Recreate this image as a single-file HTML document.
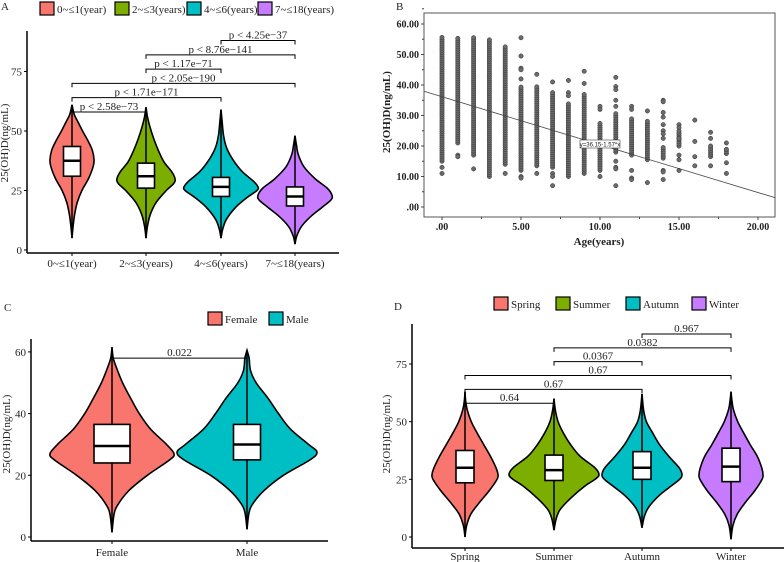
<!DOCTYPE html>
<html><head><meta charset="utf-8"><style>
html,body{margin:0;padding:0;background:#fff}
svg{display:block;font-family:"Liberation Serif",serif}
</style></head><body>
<svg id="fig" width="784" height="562" viewBox="0 0 784 562" xmlns="http://www.w3.org/2000/svg"></svg>
<script>
// ---------- DATA ----------
const colors = ["#F8766D","#7CAE00","#00BFC4","#C77CFF"];
// Panel A
const catsA = ["0~≤1(year)","2~≤3(years)","4~≤6(years)","7~≤18(years)"];
const ticksA = [0,25,50,75];
const boxA = [[31,37.5,43.5],[26,31,36.5],[22.5,26.5,30.5],[18.5,22.5,26.5]];
const profA = [
 [[5,0],[10,0.05],[15,0.12],[20,0.24],[25,0.45],[30,0.75],[35,0.96],[38,1],[42,0.92],[46,0.72],[50,0.48],[54,0.26],[57,0.1],[61,0]],
 [[5,0],[10,0.05],[15,0.15],[20,0.35],[25,0.7],[28,0.96],[30,1],[33,0.88],[37,0.62],[42,0.42],[47,0.26],[52,0.13],[56,0.05],[60,0]],
 [[5,0],[9,0.05],[13,0.15],[18,0.4],[22,0.7],[25,0.97],[26.5,1],[29,0.87],[33,0.57],[38,0.32],[43,0.15],[48,0.07],[54,0.03],[59,0]],
 [[2.5,0],[6,0.05],[10,0.18],[14,0.42],[18,0.74],[21,0.97],[23,1],[26,0.87],[30,0.54],[35,0.24],[40,0.09],[44,0.04],[48,0]]];
const halfA = [22,29,37,37];
const brA = [[0,1,"p < 2.58e−73",58],[0,2,"p < 1.71e−171",64],[0,3,"p < 2.05e−190",70],[1,2,"p < 1.17e−71",76],[1,3,"p < 8.76e−141",82],[2,3,"p < 4.25e−37",88]];
// Panel B
const ticksBy = [0,10,20,30,40,50,60];
const ticksBx = [0,5,10,15,20];
const ages = [0,1,2,3,4,5,6,7,8,9,10,11,12,13,14,15,16,17,18];
const segs = [[15,56],[21,56],[17,56],[10,55.5],[14,53],[12,40],[13.5,40],[13,38],[10,34],[11,37],[12,28],[18,31],[17,29],[15.5,28.5],[16,20],[20,25],[16.5,17],[16.5,20.5],[17.5,19.5]];
const extras = [[13,11],[17,16.5],[12.5],[],[11],[55.5,49.5,45.5,45,42,10,9.5],[43.5,11],[41,11,10,7],[41.5,37.5,36.5],[44.5,40.5],[33,32,10],[42.5,39.5,38.5,35,33,15,13,12.5,7],[33,32,12,9.5,9],[31.5,8],[35,34.5,31,29.5,27,25,24,22.5,12,11.5,9],[27,26,22.5,17,15.5,12],[28.5,21.5,13.5],[24.5,22.5,13.5],[21,14.5,11]];
const regA = 36.15, regB = -1.57;
// Panel C
const catsC = ["Female","Male"];
const ticksC = [0,20,40,60];
const boxC = [[24,29.5,36.5],[25,30,36.5]];
const profC = [
 [[1.5,0],[7,0.03],[10,0.08],[15,0.27],[20,0.57],[25,0.93],[27,1],[30,0.88],[35,0.62],[40,0.44],[45,0.3],[50,0.17],[55,0.07],[58,0.02],[61.5,0]],
 [[2.5,0],[8,0.03],[11,0.09],[15,0.24],[20,0.52],[25,0.9],[27.5,1],[30,0.88],[35,0.62],[40,0.45],[45,0.3],[50,0.13],[54,0.05],[58,0.03],[60.5,0]]];
const halfC = [62,70];
const brC = [[0,1,"0.022",58]];
// Panel D
const catsD = ["Spring","Summer","Autumn","Winter"];
const ticksD = [0,25,50,75];
const boxD = [[23.5,30,37.5],[24.5,29,35.5],[25,30,37],[24,30.5,38.5]];
const profD = [
 [[0,0],[5,0.05],[10,0.18],[15,0.44],[20,0.73],[25,0.97],[27,1],[30,0.94],[35,0.77],[40,0.57],[45,0.37],[50,0.19],[55,0.07],[59,0.02],[63,0]],
 [[3,0],[8,0.05],[12,0.14],[17,0.38],[22,0.68],[25,0.91],[27,1],[30,0.91],[35,0.58],[40,0.37],[45,0.21],[50,0.09],[55,0.03],[60,0]],
 [[4,0],[9,0.06],[13,0.17],[18,0.43],[22,0.72],[25,0.94],[27,1],[30,0.93],[35,0.67],[40,0.44],[45,0.27],[50,0.11],[55,0.04],[62,0]],
 [[-1,0],[5,0.06],[10,0.2],[15,0.45],[20,0.74],[25,0.97],[27,1],[30,0.96],[35,0.82],[40,0.6],[45,0.4],[50,0.21],[55,0.08],[59,0.03],[63,0]]];
const halfD = [33,45,40,32];
const brD = [[0,1,"0.64",58],[0,2,"0.67",64],[0,3,"0.67",70],[1,2,"0.0367",76],[1,3,"0.0382",82],[2,3,"0.967",88]];

// ---------- HELPERS ----------
const NS="http://www.w3.org/2000/svg", svg=document.getElementById('fig');
function mk(tag,attrs,parent,txt){const e=document.createElementNS(NS,tag);for(const k in attrs)e.setAttribute(k,attrs[k]);if(txt!==undefined)e.textContent=txt;(parent||svg).appendChild(e);return e;}
function group(name){const g=mk('g',{});return g;}
function smooth(pts){let d=`M${pts[0][0]},${pts[0][1]}`;for(let i=0;i<pts.length-1;i++){const p0=pts[Math.max(0,i-1)],p1=pts[i],p2=pts[i+1],p3=pts[Math.min(pts.length-1,i+2)];const c1=[p1[0]+(p2[0]-p0[0])/6,p1[1]+(p2[1]-p0[1])/6],c2=[p2[0]-(p3[0]-p1[0])/6,p2[1]-(p3[1]-p1[1])/6];d+=`C${c1[0]},${c1[1]} ${c2[0]},${c2[1]} ${p2[0]},${p2[1]}`;}return d;}

function violinPanel(o){
  const g=group(o.name);
  const y=v=>o.y0-(v-0)*o.ys;
  const ax=mk('line',{x1:o.ax,y1:o.axTop,x2:o.ax,y2:o.axBot,stroke:'#000','stroke-width':1.5},g);
  
  const bx=mk('line',{x1:o.ax,y1:o.axBot,x2:o.axRight,y2:o.axBot,stroke:'#000','stroke-width':1.5},g);
  
  o.ticks.forEach(t=>{mk('line',{x1:o.ax-3,y1:y(t),x2:o.ax,y2:y(t),stroke:'#000'},g);
    const tl=mk('text',{x:o.ax-5,y:y(t)+4,'text-anchor':'end','font-size':11,fill:'#222'},g,String(t));
    });
  const yt=mk('text',{x:o.ytx,y:o.yty,'text-anchor':'middle','font-size':11,fill:'#222',transform:`rotate(-90 ${o.ytx} ${o.yty})`},g,'25(OH)D(ng/mL)');
  
  o.cats.forEach((c,i)=>{const cx=o.cx[i];
    mk('line',{x1:cx,y1:o.axBot,x2:cx,y2:o.axBot+3,stroke:'#000'},g);
    const xl=mk('text',{x:cx,y:o.xly,'text-anchor':'middle','font-size':11,fill:'#222'},g,c);
    
    const pr=o.prof[i],h=o.half[i];
    const right=pr.map(p=>[cx+p[1]*h,y(p[0])]), left=pr.slice().reverse().map(p=>[cx-p[1]*h,y(p[0])]);
    const d=smooth(right)+smooth(left).replace(/^M/,'L')+'Z';
    const vp=mk('path',{d,fill:o.colors[i],stroke:'#000','stroke-width':1.6},g);
    
    const lo=pr[0][0],hi=pr[pr.length-1][0];
    mk('line',{x1:cx,y1:y(lo),x2:cx,y2:y(hi),stroke:'#000','stroke-width':1.5},g);
    const b=o.box[i],bw=o.bw[i];
    const r=mk('rect',{x:cx-bw/2,y:y(b[2]),width:bw,height:y(b[0])-y(b[2]),fill:'#fff',stroke:'#000','stroke-width':1.6},g);
    
    mk('line',{x1:cx-bw/2,y1:y(b[1]),x2:cx+bw/2,y2:y(b[1]),stroke:'#000','stroke-width':2.5},g);
  });
  o.br.forEach(b=>{const x1=o.cx[b[0]],x2=o.cx[b[1]],yy=y(b[3]);
    mk('path',{d:`M${x1},${yy+4}V${yy}H${x2}V${yy+4}`,fill:'none',stroke:'#000','stroke-width':1},g);
    const t=mk('text',{x:(x1+x2)/2,y:yy-2,'text-anchor':'middle','font-size':11,fill:'#222'},g,b[2]);
    });
  o.cats.forEach((c,i)=>{const lx=o.legX[i];
    const lb=mk('rect',{x:lx,y:o.legY-7,width:14,height:13,fill:o.colors[i],stroke:'#000','stroke-width':1.2},g);
    
    const lt=mk('text',{x:lx+17,y:o.legY+4,'font-size':11,fill:'#222'},g,c);
    });
  const pl=mk('text',{x:o.lblX,y:o.lblY,'font-size':11,fill:'#222'},g,o.label);
  
}

violinPanel({name:'panel-a',y0:250,ys:2.38,ax:27,axTop:31,axBot:253,axRight:339,ticks:ticksA,cats:catsA,cx:[72,146,221,295],
 prof:profA,half:halfA,box:boxA,bw:[17,17,17,17],colors,br:brA,ytx:8,yty:143,xly:267,legX:[40,115,187,258],legY:9,label:'A',lblX:1,lblY:10});
violinPanel({name:'panel-c',y0:537,ys:3.085,ax:31,axTop:339,axBot:541,axRight:328,ticks:ticksC,cats:catsC,cx:[112,247],
 prof:profC,half:halfC,box:boxC,bw:[36,27],colors:[colors[0],colors[2]],br:brC,ytx:10,yty:434,xly:556,legX:[208,269],legY:319,label:'C',lblX:4,lblY:311});
violinPanel({name:'panel-d',y0:537,ys:2.307,ax:412,axTop:324,axBot:548,axRight:784,ticks:ticksD,cats:catsD,cx:[465,554,642,731],
 prof:profD,half:halfD,box:boxD,bw:[18,18,18,18],colors,br:brD,ytx:390,yty:434,xly:560,legX:[494,556,626,692],legY:304,label:'D',lblX:394,lblY:310});

// Panel B scatter
(function(){
  const g=group('panel-b');
  const X=v=>442+v*15.8, Y=v=>207-v*3.05;
  const fr=mk('rect',{x:424,y:13,width:351,height:204,fill:'#fff',stroke:'#555','stroke-width':1},g);
  
  ticksBy.forEach(t=>{mk('line',{x1:421,y1:Y(t),x2:424,y2:Y(t),stroke:'#444'},g);
    mk('line',{x1:422,y1:Y(t+5),x2:424,y2:Y(t+5),stroke:'#444'},g);
    const l=mk('text',{x:419,y:Y(t)+3.5,'text-anchor':'end','font-size':10,'font-weight':'bold',fill:'#222'},g,t===0?'.00':t.toFixed(2));
    });
  ticksBx.forEach(t=>{mk('line',{x1:X(t),y1:217,x2:X(t),y2:220,stroke:'#444'},g);
    if(t<20)mk('line',{x1:X(t+2.5),y1:217,x2:X(t+2.5),y2:219,stroke:'#444'},g);
    const l=mk('text',{x:X(t),y:230,'text-anchor':'middle','font-size':10,'font-weight':'bold',fill:'#222'},g,t===0?'.00':t.toFixed(2));
    });
  const xt=mk('text',{x:599,y:245,'text-anchor':'middle','font-size':11,'font-weight':'bold',fill:'#222'},g,'Age(years)');
  
  const yt=mk('text',{x:390,y:112,'text-anchor':'middle','font-size':11,'font-weight':'bold',fill:'#222',transform:'rotate(-90 390 112)'},g,'25(OH)D(ng/mL)');
  
  const pts=group('scatter-points');g.appendChild(pts);
  ages.forEach((a,i)=>{const s=segs[i];
    for(let v=s[0];v<=s[1];v+=0.7){mk('circle',{cx:X(a),cy:Y(v),r:2.2,fill:'#6a6a6a',stroke:'#333','stroke-width':0.5},pts);}
    extras[i].forEach(v=>{mk('circle',{cx:X(a),cy:Y(v),r:2.2,fill:'#6a6a6a',stroke:'#333','stroke-width':0.5},pts);});
  });
  const xa=-1.14,xb=21.1;
  const rl=mk('line',{x1:X(xa),y1:Y(regA+regB*xa),x2:X(xb),y2:Y(regA+regB*xb),stroke:'#444','stroke-width':0.8},g);
  
  const lb=mk('rect',{x:580,y:140,width:40,height:8,fill:'#fff',stroke:'#444','stroke-width':0.6},g);
  
  const et=mk('text',{x:600,y:146.5,'text-anchor':'middle','font-size':6,'font-family':'Liberation Sans, sans-serif',fill:'#222'},g,'y=36.15-1.57*x');
  
  const pl=mk('text',{x:396,y:10,'font-size':11,fill:'#222'},g,'B');
  
})();
</script>
</body></html>
